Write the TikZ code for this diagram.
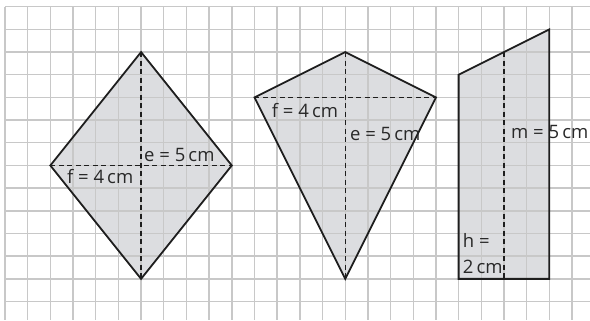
\documentclass[tikz,border=0pt]{standalone}
\usepackage{fontspec}
\setmainfont{Open Sans}
\definecolor{shapefill}{RGB}{220,221,224}
\definecolor{gridcol}{RGB}{200,200,200}
\definecolor{linecol}{RGB}{30,30,30}
\definecolor{textcol}{RGB}{40,40,40}
\begin{document}
\begin{tikzpicture}[x=22.68pt,y=-22.68pt,
  figfill/.style={fill=shapefill,draw=none},
  gridline/.style={draw=gridcol,line width=1.4pt},
  outline/.style={draw=linecol,line width=1.8pt,line join=miter},
  diag/.style={draw=linecol,line width=1.3pt,dash pattern=on 5pt off 3.5pt},
  lbl/.style={inner sep=0pt,anchor=base west,text=textcol,font=\fontsize{18.5}{20}\selectfont}]
\useasboundingbox (-0.2205,-0.2954) rectangle (25.794,13.814);
% fills
\fill[figfill] (6,2) -- (10,7) -- (6,12) -- (2,7) -- cycle;
\fill[figfill] (15,2) -- (19,4) -- (15,12) -- (11,4) -- cycle;
\fill[figfill] (20,3) -- (24,1) -- (24,12) -- (20,12) -- cycle;
% grid
\foreach \j in {0,...,13} \draw[gridline] (0,\j) -- (25.794,\j);
\foreach \i in {0,...,25} \draw[gridline] (\i,0) -- (\i,13.814);
% named vertices
\coordinate (rT) at (6,2); \coordinate (rR) at (10,7); \coordinate (rB) at (6,12); \coordinate (rL) at (2,7);
\coordinate (kT) at (15,2); \coordinate (kR) at (19,4); \coordinate (kB) at (15,12); \coordinate (kL) at (11,4);
\coordinate (tTL) at (20,3); \coordinate (tTR) at (24,1); \coordinate (tBR) at (24,12); \coordinate (tBL) at (20,12);
\coordinate (tM) at (22,2); \coordinate (tMB) at (22,12);
% diagonals / height
\draw[diag] (rT) -- (rB);
\draw[diag] (rL) -- (rR);
\draw[diag] (kT) -- (kB);
\draw[diag] (kL) -- (kR);
\draw[diag] (tM) -- (tMB);
% outlines
\draw[outline] (rT) -- (rR) -- (rB) -- (rL) -- cycle;
\draw[outline] (kT) -- (kR) -- (kB) -- (kL) -- cycle;
\draw[outline] (tTL) -- (tTR) -- (tBR) -- (tBL) -- cycle;
% labels
\node[lbl] (le1) at (6.13,6.83) {e = 5\,cm};
\node[lbl] (lf1) at (2.73,7.79) {f = 4\,cm};
\node[lbl] (lf2) at (11.76,4.88) {f = 4\,cm};
\node[lbl] (le2) at (15.21,5.88) {e = 5\,cm};
\node[lbl] (lm) at (22.31,5.83) {m = 5\,cm};
\node[lbl] (lh1) at (20.18,10.63) {h =};
\node[lbl] (lh2) at (20.18,11.75) {2\,cm};
\end{tikzpicture}
\end{document}
